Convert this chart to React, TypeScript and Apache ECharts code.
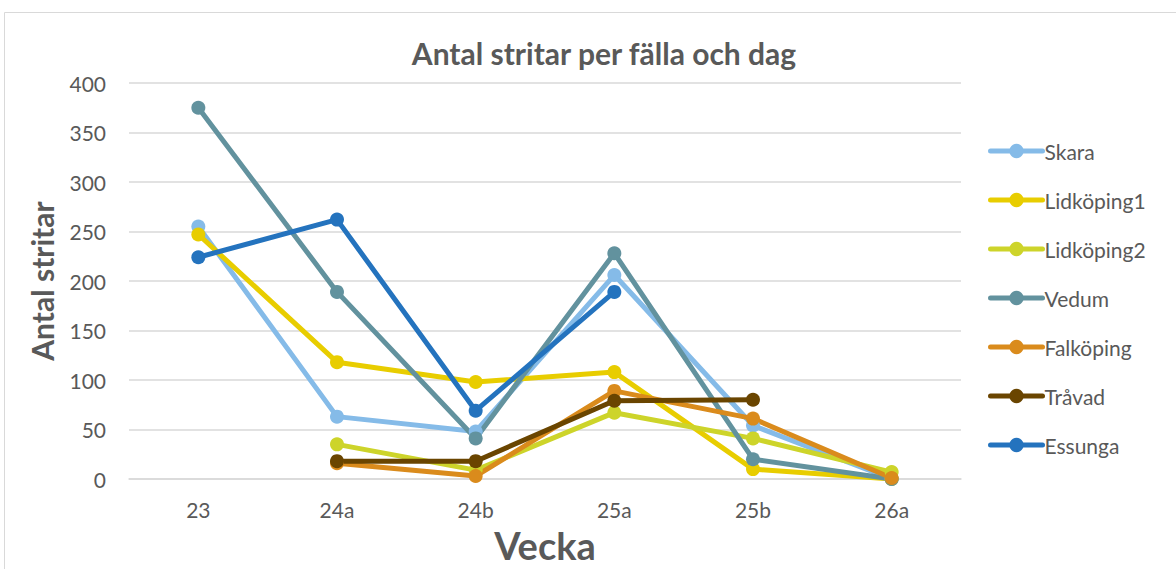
import React, { useEffect, useRef } from "react";
import * as echarts from "echarts";

const categories = ["23", "24a", "24b", "25a", "25b", "26a"];
const seriesNames = ["Skara", "Lidköping1", "Lidköping2", "Vedum", "Falköping", "Tråvad", "Essunga"];
const skara = [255, 63, 48, 206, 54, 0];
const lidkoping1 = [247, 118, 98, 108, 10, 0];
const lidkoping2 = [null, 35, 9, 67, 41, 7];
const vedum = [375, 189, 41, 228, 20, 0];
const falkoping = [null, 16, 3, 89, 61, 1];
const travad = [null, 18, 18, 79, 80, null];
const essunga = [224, 262, 69, 189, null, null];
const colors = ["#85BBE8", "#E8CD00", "#CDD42A", "#62929E", "#DA8B1C", "#6A4500", "#2473BE"];
const yTicks = [0, 400, 50];

const FONT = "Lato, 'Open Sans', sans-serif";

export default function App() {
  const ref = useRef<HTMLDivElement>(null);
  useEffect(() => {
    const chart = echarts.init(ref.current!, null, { renderer: "svg" });
    const data = [skara, lidkoping1, lidkoping2, vedum, falkoping, travad, essunga];
    chart.setOption({
      animation: false,
      backgroundColor: "#ffffff",
      textStyle: { fontFamily: FONT },
      title: {
        text: "Antal stritar per fälla och dag",
        left: 599,
        textAlign: "center",
        top: 33,
        textStyle: { fontSize: 30, fontWeight: "bold", color: "#595959", fontFamily: FONT },
      },
      graphic: [
        {
          type: "rect",
          shape: { x: 4.5, y: 12.5, width: 1200, height: 600 },
          style: { fill: "none", stroke: "#d9d9d9", lineWidth: 1 },
          silent: true,
        },
      ],
      legend: {
        orient: "vertical",
        left: 983,
        top: 135,
        itemGap: 27,
        itemWidth: 52,
        itemHeight: 18,
        lineStyle: { width: 5, cap: "round" },
        textStyle: {
          fontSize: 21,
          lineHeight: 22,
          color: "#595959",
          fontFamily: FONT,
          padding: [0, 0, 0, -3],
        },
        data: seriesNames,
      },
      grid: { left: 129, right: 215, top: 83, height: 399, containLabel: false },
      xAxis: {
        type: "category",
        data: categories,
        boundaryGap: true,
        name: "Vecka",
        nameLocation: "middle",
        nameGap: 47,
        nameTextStyle: { fontSize: 38, fontWeight: "bold", color: "#595959", fontFamily: FONT },
        axisLine: { show: true, lineStyle: { color: "#d9d9d9", width: 1.5 } },
        axisTick: { show: false },
        axisLabel: { fontSize: 21, color: "#595959", margin: 20, fontFamily: FONT },
      },
      yAxis: {
        type: "value",
        min: yTicks[0],
        max: yTicks[1],
        interval: yTicks[2],
        name: "Antal stritar",
        nameLocation: "middle",
        nameGap: 72,
        nameTextStyle: { fontSize: 30, fontWeight: "bold", color: "#595959", fontFamily: FONT },
        axisLine: { show: false },
        axisTick: { show: false },
        axisLabel: { fontSize: 21, color: "#595959", margin: 23, fontFamily: FONT },
        splitLine: { lineStyle: { color: "#d9d9d9", width: 1.5 } },
      },
      series: seriesNames.map((name, i) => ({
        name,
        type: "line",
        data: data[i],
        color: colors[i],
        symbol: "circle",
        symbolSize: 14,
        lineStyle: { width: 5, color: colors[i] },
        itemStyle: { color: colors[i] },
        connectNulls: false,
      })),
    });
    return () => chart.dispose();
  }, []);
  return (
    <div
      ref={ref}
      style={{ position: "absolute", left: 0, top: 0, width: 1176, height: 569 }}
    />
  );
}
